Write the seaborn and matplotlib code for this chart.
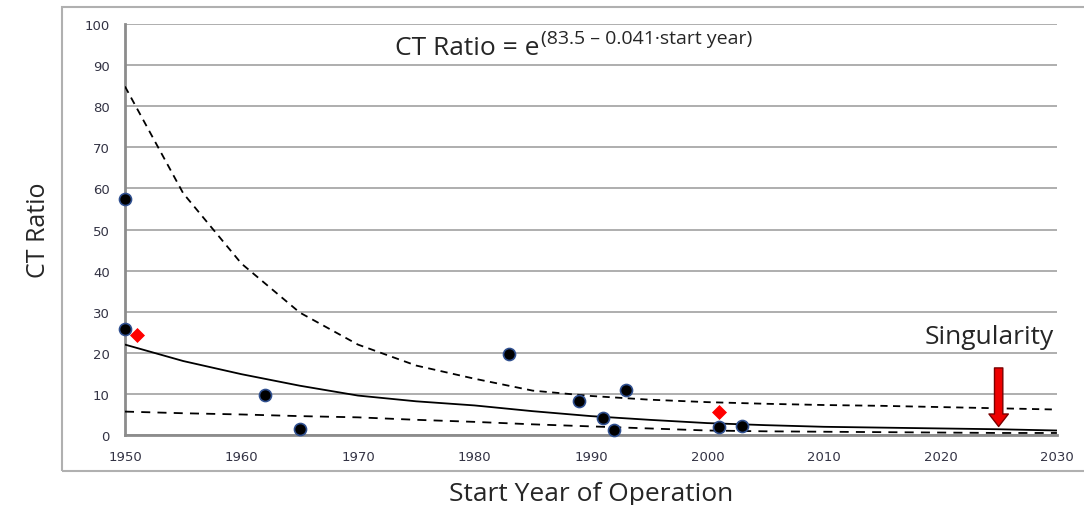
import matplotlib
matplotlib.use('Agg')
import matplotlib.pyplot as plt
import pandas as pd
import seaborn as sns
from matplotlib.patches import Rectangle

# observed plants (black dots)
obs_year = [1950, 1950, 1962, 1965, 1983, 1989, 1991, 1992, 1993, 2001, 2003]
obs_ratio = [57.4, 25.8, 9.7, 1.5, 19.6, 8.2, 4.2, 1.2, 11.0, 2.0, 2.3]

# highlighted plants (red diamonds)
red_year = [1951, 2001]
red_ratio = [24.4, 5.7]

# fitted curve and bounds
curve_year = [1950, 1955, 1960, 1965, 1970, 1975, 1980, 1985, 1990, 1995, 2000,
              2005, 2010, 2015, 2020, 2025, 2030]
fit_ratio = [22.0, 18.0, 14.8, 12.0, 9.6, 8.2, 7.2, 5.8, 4.6, 3.7, 2.9,
             2.4, 2.0, 1.8, 1.6, 1.4, 1.1]
upper_ratio = [84.8, 58.8, 41.7, 29.8, 22.0, 16.9, 13.7, 10.8, 9.5, 8.6, 8.0,
               7.6, 7.3, 7.1, 6.8, 6.5, 6.2]
lower_ratio = [5.7, 5.3, 5.0, 4.6, 4.3, 3.7, 3.2, 2.6, 2.1, 1.6, 1.1,
               0.9, 0.8, 0.7, 0.6, 0.5, 0.5]

x_ticks = [1950, 1960, 1970, 1980, 1990, 2000, 2010, 2020, 2030]
y_ticks = [0, 10, 20, 30, 40, 50, 60, 70, 80, 90, 100]

arrow_year = 2025
arrow_top = 17.0
arrow_tip = 1.4

sns.set_style('white')
plt.rcParams['font.family'] = ['Open Sans', 'DejaVu Sans']

fig = plt.figure(figsize=(10.84, 5.06), dpi=100)
ax = fig.add_axes([0.1153, 0.1383, 0.8597, 0.8123])

# outer chart frame (open on the right like the source)
fig.patches.append(Rectangle((0.0572, 0.067), 1.0, 0.917, transform=fig.transFigure,
                             fill=False, ec='#b0b0b0', lw=1.5, zorder=0))

curves = pd.DataFrame({'year': curve_year, 'fit': fit_ratio,
                       'upper': upper_ratio, 'lower': lower_ratio})
sns.lineplot(data=curves, x='year', y='fit', ax=ax, color='black', lw=1.3, zorder=3)
sns.lineplot(data=curves, x='year', y='upper', ax=ax, color='black', lw=1.3,
             linestyle=(0, (4, 3)), zorder=3)
sns.lineplot(data=curves, x='year', y='lower', ax=ax, color='black', lw=1.3,
             linestyle=(0, (5, 4)), zorder=3)

sns.scatterplot(x=obs_year, y=obs_ratio, ax=ax, color='black', edgecolor='#2f4f8f',
                linewidth=1.2, s=75, zorder=5, clip_on=False)
sns.scatterplot(x=red_year, y=red_ratio, ax=ax, color='red', marker='D',
                edgecolor='red', s=50, zorder=5)

ax.set_xlim(1950, 2030)
ax.set_ylim(0, 100)
ax.set_xticks(x_ticks)
ax.set_yticks(y_ticks)
ax.grid(axis='y', color='#a8a8a8', lw=1.3)
ax.grid(axis='x', visible=False)
for side in ['top', 'right']:
    ax.spines[side].set_visible(False)
for side in ['left', 'bottom']:
    ax.spines[side].set_color('#8c8c8c')
    ax.spines[side].set_linewidth(2)
ax.tick_params(axis='both', direction='out', length=5, width=1, color='#8c8c8c',
               labelsize=9.5, labelcolor='#333344', pad=6)
for lab in ax.get_xticklabels() + ax.get_yticklabels():
    lab.set_family('DejaVu Sans')

ax.set_xlabel('Start Year of Operation', fontsize=19, labelpad=13)
ax.set_ylabel('CT Ratio', fontsize=18, labelpad=24)

# equation, superscript placed right after the base text
base = ax.text(1973.2, 92.6, 'CT Ratio = e', fontsize=19, va='baseline', ha='left')
ax.annotate('(83.5 \u2013 0.041\u00b7start year)', xy=(1.0, 0.55), xycoords=base,
            xytext=(1, 0), textcoords='offset points', fontsize=14,
            va='bottom', ha='left')

# singularity marker
ax.text(2024.2, 22.4, 'Singularity', fontsize=19, va='baseline', ha='center')
ax.annotate('', xy=(arrow_year, arrow_tip), xytext=(arrow_year, arrow_top),
            arrowprops=dict(arrowstyle='simple,head_width=1.4,head_length=0.9,tail_width=0.6',
                            fc='#ee0000', ec='#7a0000', lw=1), zorder=6)

fig.savefig('out.png', dpi=100)
